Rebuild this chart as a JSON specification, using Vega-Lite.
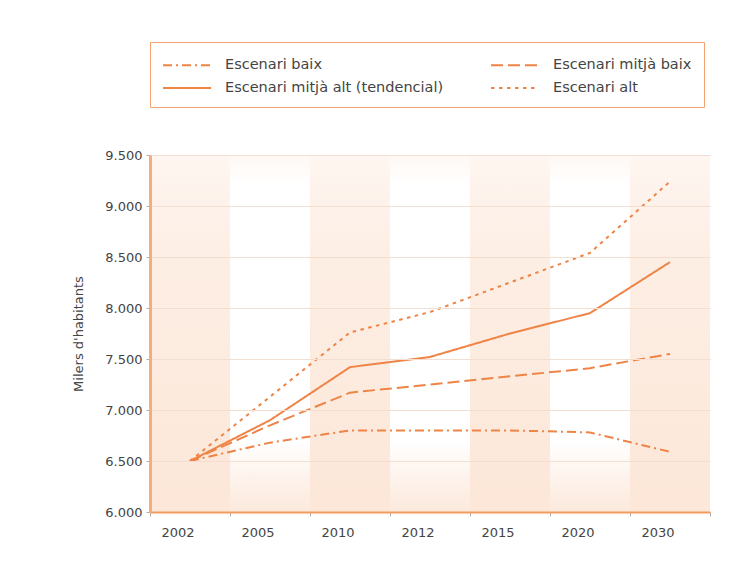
{
  "$schema": "https://vega.github.io/schema/vega-lite/v6.json",
  "width": 560,
  "height": 357,
  "autosize": {"type": "none"},
  "padding": {"left": 150, "top": 155, "right": 38, "bottom": 50},
  "background": "white",
  "datasets": {
    "anys": [
      {"any": "2002"}, {"any": "2005"}, {"any": "2010"}, {"any": "2012"},
      {"any": "2015"}, {"any": "2020"}, {"any": "2030"}
    ],
    "poblacio": [
      {"escenari": "Escenari baix", "any": "2002", "milers": 6500},
      {"escenari": "Escenari baix", "any": "2005", "milers": 6680},
      {"escenari": "Escenari baix", "any": "2010", "milers": 6800},
      {"escenari": "Escenari baix", "any": "2012", "milers": 6800},
      {"escenari": "Escenari baix", "any": "2015", "milers": 6800},
      {"escenari": "Escenari baix", "any": "2020", "milers": 6780},
      {"escenari": "Escenari baix", "any": "2030", "milers": 6590},
      {"escenari": "Escenari mitjà baix", "any": "2002", "milers": 6500},
      {"escenari": "Escenari mitjà baix", "any": "2005", "milers": 6850},
      {"escenari": "Escenari mitjà baix", "any": "2010", "milers": 7170},
      {"escenari": "Escenari mitjà baix", "any": "2012", "milers": 7250},
      {"escenari": "Escenari mitjà baix", "any": "2015", "milers": 7330},
      {"escenari": "Escenari mitjà baix", "any": "2020", "milers": 7410},
      {"escenari": "Escenari mitjà baix", "any": "2030", "milers": 7550},
      {"escenari": "Escenari mitjà alt (tendencial)", "any": "2002", "milers": 6500},
      {"escenari": "Escenari mitjà alt (tendencial)", "any": "2005", "milers": 6900},
      {"escenari": "Escenari mitjà alt (tendencial)", "any": "2010", "milers": 7420},
      {"escenari": "Escenari mitjà alt (tendencial)", "any": "2012", "milers": 7520},
      {"escenari": "Escenari mitjà alt (tendencial)", "any": "2015", "milers": 7750},
      {"escenari": "Escenari mitjà alt (tendencial)", "any": "2020", "milers": 7950},
      {"escenari": "Escenari mitjà alt (tendencial)", "any": "2030", "milers": 8450},
      {"escenari": "Escenari alt", "any": "2002", "milers": 6500},
      {"escenari": "Escenari alt", "any": "2005", "milers": 7130},
      {"escenari": "Escenari alt", "any": "2010", "milers": 7760},
      {"escenari": "Escenari alt", "any": "2012", "milers": 7960},
      {"escenari": "Escenari alt", "any": "2015", "milers": 8250},
      {"escenari": "Escenari alt", "any": "2020", "milers": 8540},
      {"escenari": "Escenari alt", "any": "2030", "milers": 9240}
    ]
  },
  "layer": [
    {
      "data": {"name": "anys"},
      "transform": [{"filter": {"field": "any", "oneOf": ["2002", "2010", "2015", "2030"]}}],
      "mark": {
        "type": "rect",
        "color": {
          "gradient": "linear", "x1": 0, "y1": 0, "x2": 0, "y2": 1,
          "stops": [
            {"offset": 0, "color": "#fef6f0"},
            {"offset": 0.3, "color": "#fdeee4"},
            {"offset": 1, "color": "#fce7d8"}
          ]
        }
      },
      "encoding": {
        "x": {"field": "any", "type": "ordinal", "scale": {"type": "band", "paddingInner": 0, "paddingOuter": 0}, "title": null},
        "y": {"datum": 6000, "type": "quantitative", "title": "Milers d'habitants"},
        "y2": {"datum": 9500}
      }
    },
    {
      "data": {"name": "anys"},
      "transform": [{"filter": {"field": "any", "oneOf": ["2005", "2012", "2020"]}}],
      "mark": {
        "type": "rect",
        "color": {
          "gradient": "linear", "x1": 0, "y1": 0, "x2": 0, "y2": 1,
          "stops": [
            {"offset": 0, "color": "#fef8f3"},
            {"offset": 0.08, "color": "#ffffff"},
            {"offset": 0.8, "color": "#ffffff"},
            {"offset": 0.93, "color": "#fdf0e7"},
            {"offset": 1, "color": "#fce9dc"}
          ]
        }
      },
      "encoding": {
        "x": {"field": "any", "type": "ordinal", "title": null},
        "y": {"datum": 6000, "type": "quantitative", "title": "Milers d'habitants"},
        "y2": {"datum": 9500}
      }
    },
    {
      "data": {"name": "poblacio"},
      "mark": {"type": "line", "color": "#ee8446", "strokeWidth": 2},
      "encoding": {
        "x": {
          "field": "any", "type": "ordinal", "title": null,
          "axis": {
            "zindex": 1, "tickBand": "extent", "labelAngle": 0, "labelOffset": 4,
            "labelPadding": 16, "tickSize": 4, "tickColor": "#b0b0b0",
            "domainColor": "#f19c5e", "domainWidth": 2, "grid": false
          }
        },
        "y": {
          "field": "milers", "type": "quantitative", "title": "Milers d'habitants",
          "scale": {"domain": [6000, 9500], "nice": false, "zero": false},
          "axis": {
            "zindex": 1, "values": [6000, 6500, 7000, 7500, 8000, 8500, 9000, 9500],
            "labelExpr": "replace(format(datum.value, ','), ',', '.')",
            "tickSize": 4, "tickColor": "#b0b0b0", "labelPadding": 4,
            "domainColor": "#f6ad78", "domainWidth": 3,
            "grid": true, "gridColor": "#f3dfd1", "gridWidth": 1,
            "titlePadding": 19
          }
        },
        "strokeDash": {
          "field": "escenari", "type": "nominal",
          "scale": {
            "domain": ["Escenari baix", "Escenari mitjà baix", "Escenari mitjà alt (tendencial)", "Escenari alt"],
            "range": [[9, 4, 2, 4], [12, 5], [1, 0], [3.5, 4.5]]
          },
          "legend": {
            "title": null, "orient": "none", "legendX": 0, "legendY": -113,
            "direction": "horizontal", "columns": 2, "columnPadding": 43, "rowPadding": 5,
            "symbolType": "M-1,0L3.8,0", "symbolSize": 400, "symbolStrokeWidth": 2,
            "symbolStrokeColor": "#ee8446", "symbolFillColor": "transparent",
            "labelFontSize": 14.5,
            "labelColor": "#444444", "labelFont": "DejaVu Sans",
            "labelOffset": 41, "labelLimit": 400, "fillColor": "white",
            "strokeColor": "#f2a370", "padding": 12
          }
        }
      }
    }
  ],
  "config": {
    "view": {"stroke": null, "fill": "#fdf1e8"},
    "font": "DejaVu Sans",
    "axis": {
      "labelFont": "DejaVu Sans", "labelFontSize": 13, "labelColor": "#444444",
      "titleFont": "DejaVu Sans", "titleFontSize": 13, "titleFontWeight": "normal",
      "titleColor": "#444444"
    }
  }
}
